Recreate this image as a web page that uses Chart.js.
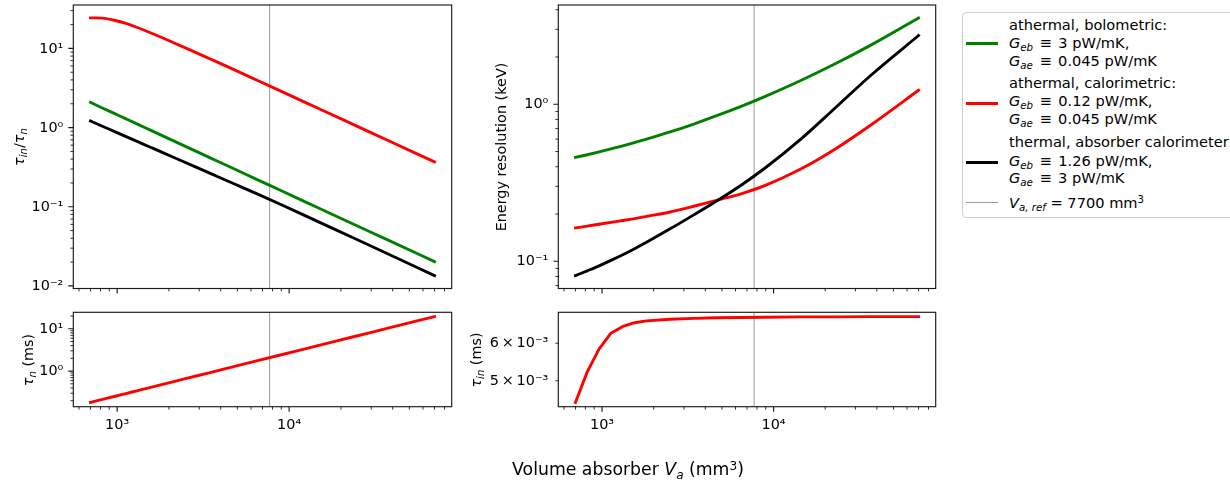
<!DOCTYPE html>
<html>
<head>
<meta charset="utf-8">
<script src="https://cdn.jsdelivr.net/npm/chart.js@4.4.1/dist/chart.umd.min.js"></script>
<style>
  html, body { margin: 0; padding: 0; background: #fff; }
  #fig { position: relative; width: 1230px; height: 480px; overflow: hidden;
         font-family: "DejaVu Sans", sans-serif; color: #000; background: #fff; }
  #fig canvas { position: absolute; }
  sub { font-size: 70%; line-height: 0; position: relative; vertical-align: baseline; top: 0.3em; }
  sup { font-size: 70%; line-height: 0; position: relative; vertical-align: baseline; top: -0.45em; }
  .ylab { position: absolute; white-space: nowrap; font-size: 14.4px; line-height: 17px;
          transform: translate(-50%, -50%) rotate(-90deg); }
  .xlab { position: absolute; white-space: nowrap; font-size: 17.3px; line-height: 20px;
          transform: translateX(-50%); }
  #legend { position: absolute; left: 961.5px; top: 12px; width: 300px; height: 206px;
            border: 1px solid #cfcfcf; border-radius: 4px; background: #fff; box-sizing: border-box; }
  .lg { position: absolute; left: 1009px; font-size: 14.6px; line-height: 18px; white-space: nowrap; }
  .hd { position: absolute; left: 966px; width: 32px; }
  .rel { margin: 0 6.5px; }
</style>
</head>
<body>
<div id="fig">
  <canvas id="cRatio" width="460" height="300" style="left:0;top:0;width:460px;height:300px"></canvas>
  <canvas id="cTauN" width="460" height="180" style="left:0;top:300px;width:460px;height:180px"></canvas>
  <canvas id="cRes" width="480" height="300" style="left:470px;top:0;width:480px;height:300px"></canvas>
  <canvas id="cTauIn" width="480" height="180" style="left:470px;top:300px;width:480px;height:180px"></canvas>

  <div class="ylab" style="left:18.5px;top:146.5px"><i>τ</i><sub><i>in</i></sub>/<i>τ</i><sub><i>n</i></sub></div>
  <div class="ylab" style="left:27.5px;top:359.5px"><i>τ</i><sub><i>n</i></sub> (ms)</div>
  <div class="ylab" style="left:500.5px;top:147px">Energy resolution (keV)</div>
  <div class="ylab" style="left:476px;top:359.5px"><i>τ</i><sub><i>in</i></sub> (ms)</div>

  <div class="xlab" style="left:628px;top:459px">Volume absorber <i>V</i><sub><i>a</i></sub> (mm<sup>3</sup>)</div>

  <div id="legend"></div>
  <div id="legendItems"></div>
</div>

<script>
// Sampled absorber volumes (mm^3)
const volumes = [700, 820, 962, 1127, 1321, 1549, 1815, 2494, 3426, 4707, 6467, 8884, 14306, 23037, 37096, 70000];
// Reference absorber volume (mm^3)
const vRef = 7700;

// tau_in / tau_n
const ratioBolometric   = [2.08, 1.77, 1.51, 1.29, 1.10, 0.935, 0.797, 0.579, 0.421, 0.306, 0.222, 0.1615, 0.100, 0.0619, 0.0384, 0.0203];
const ratioCalorimetric = [24.3, 24.1, 22.7, 20.7, 18.25, 15.9, 13.74, 10.16, 7.46, 5.47, 3.99, 2.906, 1.805, 1.121, 0.696, 0.369];
const ratioThermal      = [1.21, 1.04, 0.895, 0.77, 0.662, 0.569, 0.49, 0.362, 0.268, 0.198, 0.1466, 0.1075, 0.0667, 0.0415, 0.0257, 0.0135];

// Energy resolution (keV)
const resBolometric   = [0.459, 0.477, 0.497, 0.519, 0.543, 0.570, 0.599, 0.666, 0.748, 0.848, 0.969, 1.118, 1.411, 1.816, 2.388, 3.548];
const resCalorimetric = [0.163, 0.1675, 0.172, 0.177, 0.1818, 0.187, 0.193, 0.206, 0.224, 0.245, 0.269, 0.303, 0.385, 0.521, 0.74, 1.227];
const resThermal      = [0.081, 0.0869, 0.0935, 0.1012, 0.110, 0.1202, 0.132, 0.1608, 0.1974, 0.2438, 0.305, 0.391, 0.595, 0.954, 1.536, 2.74];

// Time constants (ms)
const tauN  = [0.182, 0.214, 0.251, 0.295, 0.347, 0.408, 0.478, 0.661, 0.912, 1.26, 1.74, 2.40, 3.88, 6.30, 10.2, 19.4];
const tauIn = [0.00450, 0.00522, 0.00584, 0.00630, 0.00651, 0.00663, 0.00669, 0.00674, 0.00677, 0.00679, 0.00680, 0.00681, 0.00682, 0.00682, 0.00683, 0.00683];

// Labelled tick positions and their texts
const volumeTicks = [1e3, 1e4];
const volumeTickLabels = ['10³', '10⁴'];
const ratioTicks = [1e-2, 1e-1, 1, 10];
const ratioTickLabels = ['10⁻²', '10⁻¹', '10⁰', '10¹'];
const resTicks = [0.1, 1];
const resTickLabels = ['10⁻¹', '10⁰'];
const tauNTicks = [1, 10];
const tauNTickLabels = ['10⁰', '10¹'];
const tauInTicks = [0.005, 0.006];
const tauInTickLabels = ['5\u2009×\u200910⁻³', '6\u2009×\u200910⁻³'];

// Legend entries
const legendEntries = [
  { color: '#008000', lines: ['athermal, bolometric:',
      '<i>G</i><sub><i>eb</i></sub><span class="rel">≡</span>3 pW/mK,',
      '<i>G</i><sub><i>ae</i></sub><span class="rel">≡</span>0.045 pW/mK'] },
  { color: '#ff0000', lines: ['athermal, calorimetric:',
      '<i>G</i><sub><i>eb</i></sub><span class="rel">≡</span>0.12 pW/mK,',
      '<i>G</i><sub><i>ae</i></sub><span class="rel">≡</span>0.045 pW/mK'] },
  { color: '#000000', lines: ['thermal, absorber calorimeter:',
      '<i>G</i><sub><i>eb</i></sub><span class="rel">≡</span>1.26 pW/mK,',
      '<i>G</i><sub><i>ae</i></sub><span class="rel">≡</span>3 pW/mK'] },
  { color: '#9a9a9a', thin: true, lines: ['<i>V</i><sub><i>a, ref</i></sub> = 7700 mm<sup>3</sup>'] }
];

// ---- styles ----
const GREEN = '#008000', RED = '#ff0000', BLACK = '#000000';
const REF_COLOR = 'rgba(128,128,128,0.8)';
const LINE_W = 2.9;

Chart.defaults.font.family = '"DejaVu Sans", sans-serif';
Chart.defaults.color = '#000';

// Autoscaled log limits with 5% padding in decades
function logLimits(...series) {
  const all = series.flat();
  const lo = Math.log10(Math.min(...all)), hi = Math.log10(Math.max(...all));
  const m = 0.05 * (hi - lo);
  return [Math.pow(10, lo - m), Math.pow(10, hi + m)];
}
const xLim = logLimits(volumes);

function logTickMarks(min, max) {
  const out = [];
  for (let e = Math.floor(Math.log10(min)) - 1; e <= Math.ceil(Math.log10(max)); e++) {
    for (let m = 1; m <= 9; m++) {
      const v = m * Math.pow(10, e);
      if (v >= min * (1 - 1e-9) && v <= max * (1 + 1e-9)) out.push({ v, major: m === 1 });
    }
  }
  return out;
}

// Vertical reference line at vRef
const refLine = {
  id: 'refLine',
  beforeDatasetsDraw(chart) {
    const { ctx, chartArea: a, scales: { x } } = chart;
    const px = x.getPixelForValue(vRef);
    ctx.save();
    ctx.strokeStyle = REF_COLOR;
    ctx.lineWidth = 1;
    ctx.beginPath();
    ctx.moveTo(px, a.top);
    ctx.lineTo(px, a.bottom);
    ctx.stroke();
    ctx.restore();
  }
};

// Boxed frame plus outward major/minor log tick marks
const axesFrame = {
  id: 'axesFrame',
  afterDatasetsDraw(chart) {
    const { ctx, chartArea: a, scales: { x, y } } = chart;
    ctx.save();
    ctx.strokeStyle = '#1a1a1a';
    for (const major of [true, false]) {
      ctx.lineWidth = major ? 1.15 : 0.9;
      const len = major ? 5 : 2.9;
      ctx.beginPath();
      logTickMarks(x.min, x.max).filter(t => t.major === major).forEach(t => {
        const px = x.getPixelForValue(t.v);
        ctx.moveTo(px, a.bottom); ctx.lineTo(px, a.bottom + len);
      });
      logTickMarks(y.min, y.max).filter(t => t.major === major).forEach(t => {
        const py = y.getPixelForValue(t.v);
        ctx.moveTo(a.left, py); ctx.lineTo(a.left - len, py);
      });
      ctx.stroke();
    }
    ctx.lineWidth = 1.15;
    ctx.strokeRect(a.left, a.top, a.right - a.left, a.bottom - a.top);
    ctx.restore();
  }
};

function logAxis(pos, lim, size, tickVals, tickLabels) {
  const horiz = pos === 'bottom';
  return {
    type: 'logarithmic', position: pos, bounds: 'data',
    min: lim[0], max: lim[1],
    grid: { display: false, drawTicks: false },
    border: { display: false },
    ticks: {
      display: !!tickVals, autoSkip: false, maxRotation: 0, minRotation: 0,
      padding: 10, color: '#000', font: { size: 14.4 },
      labelOffset: horiz ? 0 : 0.5,
      callback: (v, i) => (tickLabels ? tickLabels[i] : '')
    },
    afterBuildTicks: s => { if (tickVals) s.ticks = tickVals.map(v => ({ value: v })); },
    afterFit: s => {
      if (horiz) s.height = size; else s.width = size;
      s.paddingTop = 0; s.paddingBottom = 0; s.paddingLeft = 0; s.paddingRight = 0;
    }
  };
}

function panel(id, series, yTicks, yLabels, geom, showX) {
  const yLim = logLimits(...series.map(s => s.values));
  return new Chart(document.getElementById(id), {
    type: 'line',
    data: {
      datasets: series.map(s => ({
        data: volumes.map((v, i) => ({ x: v, y: s.values[i] })),
        borderColor: s.color, borderWidth: LINE_W,
        pointRadius: 0, pointHoverRadius: 0, fill: false,
        tension: 0, cubicInterpolationMode: s.polyline ? 'default' : 'monotone',
        borderCapStyle: 'square', borderJoinStyle: 'round'
      }))
    },
    options: {
      responsive: false, animation: false, devicePixelRatio: 1, events: [],
      layout: { padding: geom.pad },
      plugins: { legend: { display: false }, tooltip: { enabled: false }, title: { display: false } },
      scales: {
        x: logAxis('bottom', xLim, geom.xh, showX ? volumeTicks : null, showX ? volumeTickLabels : null),
        y: logAxis('left', yLim, geom.yw, yTicks, yLabels)
      }
    },
    plugins: [refLine, axesFrame]
  });
}

panel('cRatio',
  [{ values: ratioThermal, color: BLACK }, { values: ratioCalorimetric, color: RED }, { values: ratioBolometric, color: GREEN }],
  ratioTicks, ratioTickLabels,
  { pad: { left: 0, top: 5, right: 8.3, bottom: 0 }, yw: 73.3, xh: 11.5 }, false);

panel('cTauN',
  [{ values: tauN, color: RED }],
  tauNTicks, tauNTickLabels,
  { pad: { left: 0, top: 12.3, right: 8.3, bottom: 0 }, yw: 73.3, xh: 73.3 }, true);

panel('cRes',
  [{ values: resThermal, color: BLACK }, { values: resCalorimetric, color: RED }, { values: resBolometric, color: GREEN }],
  resTicks, resTickLabels,
  { pad: { left: 0, top: 5, right: 14.3, bottom: 0 }, yw: 88.3, xh: 11.5 }, false);

panel('cTauIn',
  [{ values: tauIn, color: RED, polyline: true }],
  tauInTicks, tauInTickLabels,
  { pad: { left: 0, top: 12.3, right: 14.3, bottom: 0 }, yw: 88.3, xh: 73.3 }, true);

// Legend: handles and multi-line labels
(function buildLegend() {
  const host = document.getElementById('legendItems');
  const lineCenters = [[25, 43.5, 61], [83.5, 101.5, 118.8], [142.5, 160.8, 178.6], [202.7]];
  const handleY = [43.3, 103.3, 162.7, 202.3];
  legendEntries.forEach((entry, k) => {
    const h = document.createElement('div');
    h.className = 'hd';
    const th = entry.thin ? 1 : LINE_W;
    h.style.top = (handleY[k] - th / 2) + 'px';
    h.style.height = th + 'px';
    h.style.background = entry.color;
    host.appendChild(h);
    entry.lines.forEach((txt, j) => {
      const d = document.createElement('div');
      d.className = 'lg';
      d.style.top = (lineCenters[k][j] - 9.2) + 'px';
      d.innerHTML = txt;
      host.appendChild(d);
    });
  });
})();
</script>
</body>
</html>
